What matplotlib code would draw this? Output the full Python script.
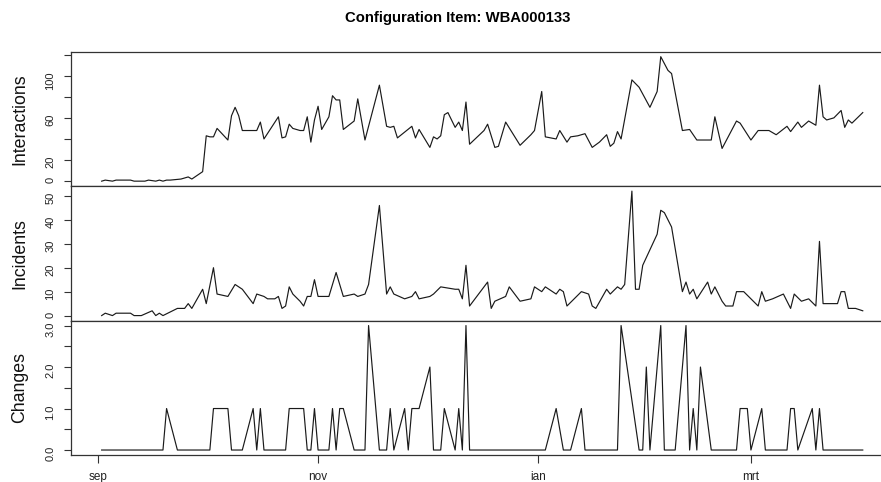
import numpy as np
import matplotlib
matplotlib.use('Agg')
import matplotlib.pyplot as plt
import matplotlib.dates as mdates

plt.rcParams['font.family'] = ['Liberation Sans', 'DejaVu Sans']

# day offsets counted from 1 september 2014
start = np.datetime64('2014-09-01')

int_days = [1, 2, 4, 5, 9, 10, 13, 14, 16, 17, 18, 19, 20, 23, 25, 26, 29, 30, 31, 32,
            33, 36, 37, 38, 39, 40, 44, 45, 46, 50, 51, 52, 53, 54, 56, 57, 58, 59, 60, 61,
            62, 64, 65, 66, 67, 68, 71, 72, 74, 78, 80, 81, 82, 83, 87, 88, 89, 92, 93, 94,
            95, 96, 97, 99, 100, 101, 102, 103, 107, 108, 110, 111, 113, 117, 120, 121, 123, 124, 127, 128,
            130, 131, 133, 135, 137, 139, 141, 142, 143, 144, 145, 148, 150, 153, 155, 156, 158, 159, 162, 164,
            166, 170, 171, 173, 177, 178, 181, 183, 186, 188, 191, 192, 194, 195, 197, 199, 200, 201, 202, 204,
            206, 207, 208, 209, 212]
int_vals = [0, 1, 0, 1, 1, 0, 0, 1, 0, 1, 0, 1, 1, 2, 4, 2, 9, 43, 42, 42,
            50, 39, 62, 70, 62, 48, 48, 56, 40, 61, 41, 42, 54, 50, 48, 48, 61, 37, 58, 71,
            49, 61, 81, 77, 77, 49, 57, 78, 39, 91, 52, 51, 52, 41, 52, 41, 49, 32, 42, 40,
            43, 63, 65, 51, 56, 48, 75, 35, 48, 54, 32, 33, 56, 34, 44, 48, 85, 42, 40, 48,
            37, 42, 43, 45, 32, 37, 44, 33, 36, 47, 40, 96, 89, 70, 85, 118, 105, 102, 48, 49,
            39, 39, 61, 31, 57, 55, 39, 48, 48, 44, 52, 47, 56, 51, 57, 53, 91, 61, 58, 60,
            67, 51, 58, 55, 65]

inc_days = [1, 2, 4, 5, 9, 10, 12, 15, 16, 17, 18, 22, 24, 25, 26, 29, 30, 32, 33, 36,
            38, 40, 43, 44, 46, 47, 49, 50, 51, 52, 53, 54, 56, 57, 58, 59, 60, 61, 64, 66,
            68, 71, 72, 74, 75, 78, 80, 81, 82, 85, 87, 88, 89, 92, 93, 95, 99, 100, 101, 102,
            103, 108, 109, 110, 113, 114, 117, 120, 121, 123, 124, 127, 128, 129, 130, 132, 134, 136, 137, 138,
            141, 142, 144, 145, 146, 148, 149, 150, 151, 155, 156, 157, 159, 162, 163, 164, 165, 166, 169, 170,
            171, 173, 174, 176, 177, 179, 183, 184, 185, 187, 190, 192, 193, 195, 197, 199, 200, 201, 205, 206,
            207, 208, 210, 212]
inc_vals = [0, 1, 0, 1, 1, 0, 0, 2, 0, 1, 0, 3, 3, 5, 3, 11, 5, 20, 9, 8,
            13, 11, 5, 9, 8, 7, 7, 8, 3, 4, 12, 9, 6, 4, 8, 8, 15, 8, 8, 18,
            8, 9, 8, 9, 13, 46, 9, 12, 9, 7, 8, 10, 7, 8, 9, 12, 11, 11, 7, 21,
            4, 14, 3, 6, 8, 12, 6, 7, 12, 10, 12, 9, 11, 10, 4, 7, 10, 9, 4, 3,
            11, 9, 12, 11, 13, 52, 11, 11, 21, 34, 44, 43, 37, 10, 14, 9, 11, 7, 14, 9,
            12, 6, 4, 4, 10, 10, 4, 10, 6, 7, 9, 3, 9, 6, 7, 4, 31, 5, 5, 10,
            10, 3, 3, 2]

chg_days = [1, 18, 19, 22, 31, 32, 36, 37, 40, 43, 44, 45, 46, 52, 53, 57, 58, 59, 60, 61,
            64, 65, 66, 67, 68, 71, 74, 75, 78, 80, 81, 82, 85, 86, 87, 89, 92, 93, 95, 96,
            99, 100, 101, 102, 103, 124, 127, 129, 131, 134, 135, 144, 145, 150, 151, 152, 153, 156, 157, 160,
            163, 164, 165, 166, 167, 170, 177, 178, 180, 181, 184, 185, 191, 192, 193, 194, 198, 199, 200, 201,
            212]
chg_vals = [0, 0, 1, 0, 0, 1, 1, 0, 0, 1, 0, 1, 0, 0, 1, 1, 0, 0, 1, 0,
            0, 1, 0, 1, 1, 0, 0, 3, 0, 0, 1, 0, 1, 0, 1, 1, 2, 0, 0, 1,
            0, 1, 0, 3, 0, 0, 1, 0, 0, 1, 0, 0, 3, 0, 0, 2, 0, 3, 0, 0,
            3, 0, 1, 0, 2, 0, 0, 1, 1, 0, 1, 0, 0, 1, 1, 0, 1, 0, 1, 0,
            0]

month_ticks = ['2014-09-01', '2014-11-01', '2015-01-01', '2015-03-01']
month_labels = ['sep', 'nov', 'ian', 'mrt']

panels = [
    ('Interactions', int_days, int_vals, [0, 20, 40, 60, 80, 100, 120],
     ['0', '20', '', '60', '', '100', '']),
    ('Incidents', inc_days, inc_vals, [0, 10, 20, 30, 40, 50],
     ['0', '10', '20', '30', '40', '50']),
    ('Changes', chg_days, chg_vals, [0, 0.5, 1, 1.5, 2, 2.5, 3],
     ['0.0', '', '1.0', '', '2.0', '', '3.0']),
]

W, H = 881, 482
fig = plt.figure(figsize=(W / 100, H / 100), dpi=100)

# plot region in pixels (right side runs off the picture like the original)
x0, x1 = 71.2, 893.2
y_top, y_bot = 51.7, 455.0
ph = (y_bot - y_top) / 3

d0 = mdates.date2num(start)
first = min(int_days[0], inc_days[0], chg_days[0])
last = max(int_days[-1], inc_days[-1], chg_days[-1])
span = last - first
xlim = (d0 + first - 0.04 * span, d0 + last + 0.04 * span)

edge = '#333333'
for i, (name, days, vals, yt, ytl) in enumerate(panels):
    top = y_top + i * ph
    ax = fig.add_axes([x0 / W, 1 - (top + ph) / H, (x1 - x0) / W, ph / H])
    dates = start + np.array(days)
    ax.plot(dates, vals, color='#1a1a1a', lw=0.85)
    lo, hi = min(vals), max(vals)
    pad = 0.04 * (hi - lo)
    ax.set_ylim(lo - pad, hi + pad)
    ax.set_xlim(*xlim)
    ax.set_yticks(yt)
    ax.set_yticklabels(ytl)
    ax.tick_params(axis='y', direction='out', length=5.4, width=0.8, color=edge,
                   pad=6, labelsize=8, labelrotation=90, labelcolor='#222222')
    for s in ax.spines.values():
        s.set_color(edge)
        s.set_linewidth(0.9)
    if i < 2:
        ax.tick_params(axis='x', bottom=False, labelbottom=False)
    else:
        ax.set_xticks(np.array(month_ticks, dtype='datetime64[D]'))
        ax.set_xticklabels(month_labels)
        ax.tick_params(axis='x', direction='out', length=5.8, width=0.8, color=edge,
                       pad=5.5, labelsize=8.5, labelcolor='#222222')
    fig.text(20 / W, 1 - (top + ph / 2) / H, name, rotation=90,
             ha='center', va='center', fontsize=12.8, color='#111111')

fig.text(458 / W, 1 - 18 / H, 'Configuration Item: WBA000133',
         ha='center', va='center', fontsize=10.7, fontweight='bold')

fig.savefig('out.png', dpi=100)
